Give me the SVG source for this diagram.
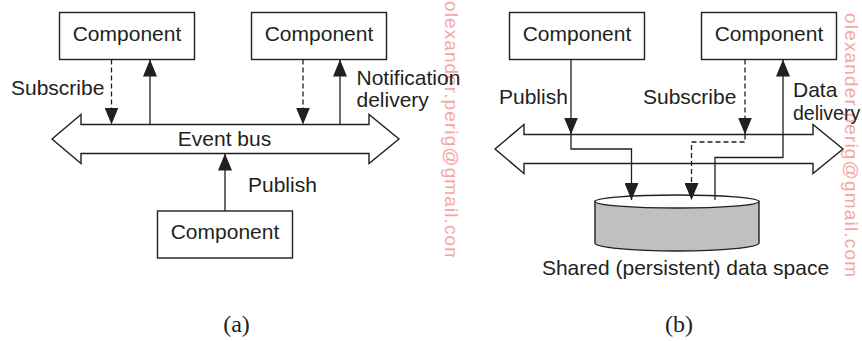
<svg xmlns="http://www.w3.org/2000/svg" width="862" height="341" viewBox="0 0 862 341">
<style>
.box{fill:#fff;stroke:#231f20;stroke-width:1.4}
.lbl{font-family:"Liberation Sans",Arial,sans-serif;font-size:21px;fill:#231f20}
.mid{text-anchor:middle}
.bus{fill:#fff;stroke:#231f20;stroke-width:1.4}
.ln{fill:none;stroke:#231f20;stroke-width:1.3}
.dash{stroke-dasharray:5 3}
.cap{font-family:"Liberation Serif","Times New Roman",serif;font-size:24px;fill:#231f20;text-anchor:middle}
.wm{font-family:"Liberation Sans",Arial,sans-serif;font-size:19px;fill:#f6a5a5}
</style>
<defs>
<marker id="ah" viewBox="0 0 17 14" refX="17" refY="7" markerWidth="17" markerHeight="14" markerUnits="userSpaceOnUse" orient="auto">
<path d="M0,0 L17,7 L0,14 Z" fill="#231f20"/>
</marker>
<clipPath id="wmclip"><rect x="430" y="0" width="40" height="257"/></clipPath>
</defs>

<!-- watermarks -->
<g id="watermarks">
<g clip-path="url(#wmclip)"><text class="wm" transform="translate(445,1) rotate(90)" textLength="262">olexander.perig@gmail.com</text></g>
<text class="wm" transform="translate(845,13) rotate(90)" textLength="264">olexander.perig@gmail.com</text>
</g>

<!-- Panel (a) -->
<g id="bus-a">
<polygon class="bus" points="52,139 81,114.5 81,124.5 369,124.5 369,114.5 399,139 369,163.5 369,153.5 81,153.5 81,163.5"/>
<text class="lbl mid" x="224.5" y="146">Event bus</text>
</g>
<g id="comp-a1">
<rect class="box" x="59.5" y="12.5" width="135" height="47"/>
<text class="lbl mid" x="127" y="41">Component</text>
</g>
<g id="comp-a2">
<rect class="box" x="251.5" y="12.5" width="135" height="47"/>
<text class="lbl mid" x="319" y="41">Component</text>
</g>
<g id="comp-a3">
<rect class="box" x="157.5" y="211" width="135" height="47"/>
<text class="lbl mid" x="225" y="238.5">Component</text>
</g>

<!-- Panel (b) -->
<g id="bus-b">
<polygon class="bus" points="495,149 524,124.5 524,134.5 813,134.5 813,124.5 843,149 813,173.5 813,163.5 524,163.5 524,173.5"/>
</g>
<g id="comp-b1">
<rect class="box" x="509.5" y="12.5" width="135" height="47"/>
<text class="lbl mid" x="577" y="41">Component</text>
</g>
<g id="comp-b2">
<rect class="box" x="701.5" y="12.5" width="135" height="47"/>
<text class="lbl mid" x="769" y="41">Component</text>
</g>
<g id="data-space">
<path d="M595,201.5 V243 A82,8 0 0 0 759,243 V201.5 Z" fill="#bfc0c2" stroke="#231f20" stroke-width="1.4"/>
<ellipse cx="677" cy="201.5" rx="82" ry="6.5" fill="#fff" stroke="#231f20" stroke-width="1.4"/>
<text class="lbl mid" x="685.5" y="274.5">Shared (persistent) data space</text>
</g>

<g id="connectors">
<!-- (a) -->
<path class="ln dash" d="M111.5,59.5 V124.5" marker-end="url(#ah)"/>
<path class="ln" d="M150,124.5 V59.5" marker-end="url(#ah)"/>
<path class="ln dash" d="M303,59.5 V124.5" marker-end="url(#ah)"/>
<path class="ln" d="M340,124.5 V59.5" marker-end="url(#ah)"/>
<path class="ln" d="M225,211 V153.5" marker-end="url(#ah)"/>
<!-- (b) -->
<path class="ln" d="M571,59.5 V134.5" marker-end="url(#ah)"/>
<path class="ln" d="M571,134.5 V149 H631.5 V200" marker-end="url(#ah)"/>
<path class="ln dash" d="M745,59.5 V134.5" marker-end="url(#ah)"/>
<path class="ln dash" d="M745,134.5 V142 H691.5 V200" marker-end="url(#ah)"/>
<path class="ln" d="M715,200 V157.5 H783 V59.5" marker-end="url(#ah)"/>
</g>

<g id="labels">
<text class="lbl" x="11" y="95">Subscribe</text>
<text class="lbl" x="356.5" y="85">Notification</text>
<text class="lbl" x="356.5" y="107">delivery</text>
<text class="lbl" x="248" y="191.5">Publish</text>
<text class="lbl" x="499" y="104">Publish</text>
<text class="lbl" x="643" y="104">Subscribe</text>
<text class="lbl" x="793" y="97">Data</text>
<text class="lbl" x="793" y="120" style="font-size:19.5px">delivery</text>
<text class="cap" x="236.5" y="332">(a)</text>
<text class="cap" x="679" y="332">(b)</text>
</g>
</svg>
